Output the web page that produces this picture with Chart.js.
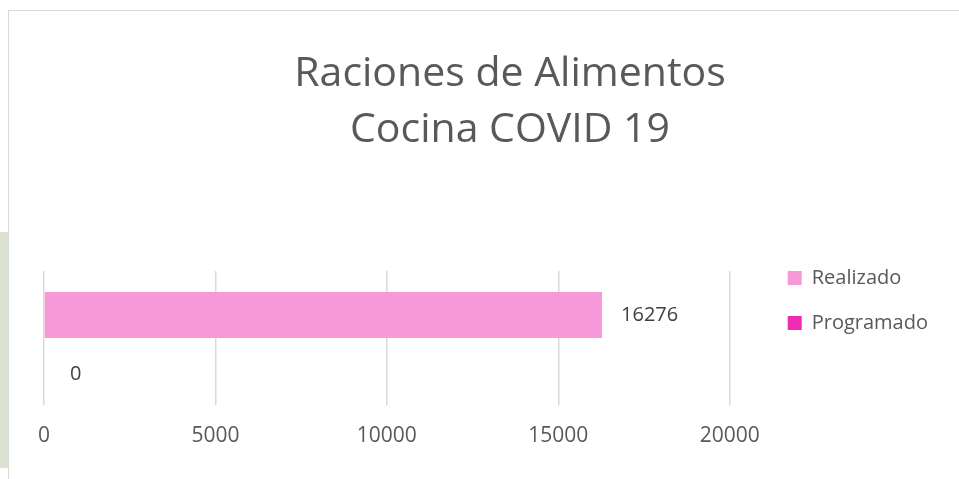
<!DOCTYPE html>
<html><head><meta charset="utf-8">
<script src="https://cdn.jsdelivr.net/npm/chart.js@4"></script>
<style>
html,body{margin:0;padding:0;background:#fff;overflow:hidden;width:959px;height:479px;}
#frame{position:absolute;left:8px;top:10px;width:951px;height:469px;border-left:1px solid #d9d9d9;border-top:1px solid #d9d9d9;}
#strip{position:absolute;left:0;top:232px;width:8px;height:236px;background:#dce3d2;}
canvas{position:absolute;left:9px;top:11px;}
</style></head><body>
<div id="strip"></div><div id="frame"></div>
<canvas id="c" width="950" height="468"></canvas>
<script>
// ---- data ----
const chartTitle = ['Raciones de Alimentos', 'Cocina COVID 19'];
const categories = [''];
const seriesNames = ['Realizado', 'Programado'];
const realizado = [16276];
const programado = [0];
const tickLabels = ['0', '5000', '10000', '15000', '20000'];
const axisMin = 0;
const axisMax = 20000;
const axisStep = 5000;

// ---- styles ----
const seriesColors = ['#F799D8', '#F02DB2'];
const labelDX = [19, 26];
const labelDY = [0.5, 13];
const FONT = '"Open Sans", "Liberation Sans", sans-serif';

const titlePlugin = {
  id: 'ptitle',
  afterDraw(chart) {
    const ctx = chart.ctx;
    ctx.save();
    ctx.font = '41px ' + FONT;
    ctx.fillStyle = '#595959';
    ctx.textAlign = 'center';
    ctx.textBaseline = 'alphabetic';
    ctx.fillText(chartTitle[0], 501, 74.5);
    ctx.fillText(chartTitle[1], 501, 130.5);
    ctx.restore();
  }
};

const labelPlugin = {
  id: 'vlabels',
  afterDatasetsDraw(chart) {
    const ctx = chart.ctx;
    ctx.save();
    ctx.font = '20px ' + FONT;
    ctx.fillStyle = '#404040';
    ctx.textAlign = 'left';
    ctx.textBaseline = 'middle';
    chart.data.datasets.forEach((ds, i) => {
      const meta = chart.getDatasetMeta(i);
      meta.data.forEach((bar, j) => {
        ctx.fillText(String(ds.data[j]), bar.x + labelDX[i], bar.y + labelDY[i]);
      });
    });
    ctx.restore();
  }
};

new Chart(document.getElementById('c'), {
  type: 'bar',
  data: {
    labels: categories,
    datasets: [
      { label: seriesNames[0], data: realizado, backgroundColor: seriesColors[0], borderWidth: 0,
        inflateAmount: 0, barThickness: 46, categoryPercentage: 0.657 },
      { label: seriesNames[1], data: programado, backgroundColor: seriesColors[1], borderWidth: 0,
        inflateAmount: 0, barThickness: 46, categoryPercentage: 0.657 }
    ]
  },
  options: {
    indexAxis: 'y',
    responsive: false,
    animation: false,
    layout: { padding: { left: 35, right: 21, top: 0, bottom: 12.8 } },
    plugins: {
      title: { display: false },
      tooltip: { enabled: false },
      legend: {
        position: 'right', align: 'start', fullSize: true,
        title: { display: true, text: '', font: { size: 12, lineHeight: 1.2 }, padding: { top: 217.6, bottom: 0 } },
        labels: { boxWidth: 14, boxHeight: 14, padding: 25, color: '#595959', font: { family: FONT, size: 20 } }
      }
    },
    scales: {
      x: {
        type: 'linear', position: 'bottom', min: axisMin, max: axisMax,
        ticks: { stepSize: axisStep, padding: 18, color: '#595959', font: { family: FONT, size: 21 },
          callback: (v, i) => tickLabels[i] },
        grid: { color: '#d9d9d9', lineWidth: 1.5, drawTicks: false },
        border: { display: false }
      },
      y: { type: 'category', display: false, offset: true },
      xTop: {
        type: 'linear', axis: 'x', position: 'top', display: true,
        ticks: { display: false }, grid: { display: false }, border: { display: false },
        afterFit(s) { s.height = 260; }
      },
      yRight: {
        type: 'linear', axis: 'y', position: 'right', display: true,
        ticks: { display: false }, grid: { display: false }, border: { display: false },
        afterFit(s) { s.width = 33; }
      }
    }
  },
  plugins: [titlePlugin, labelPlugin]
});
</script>
</body></html>
